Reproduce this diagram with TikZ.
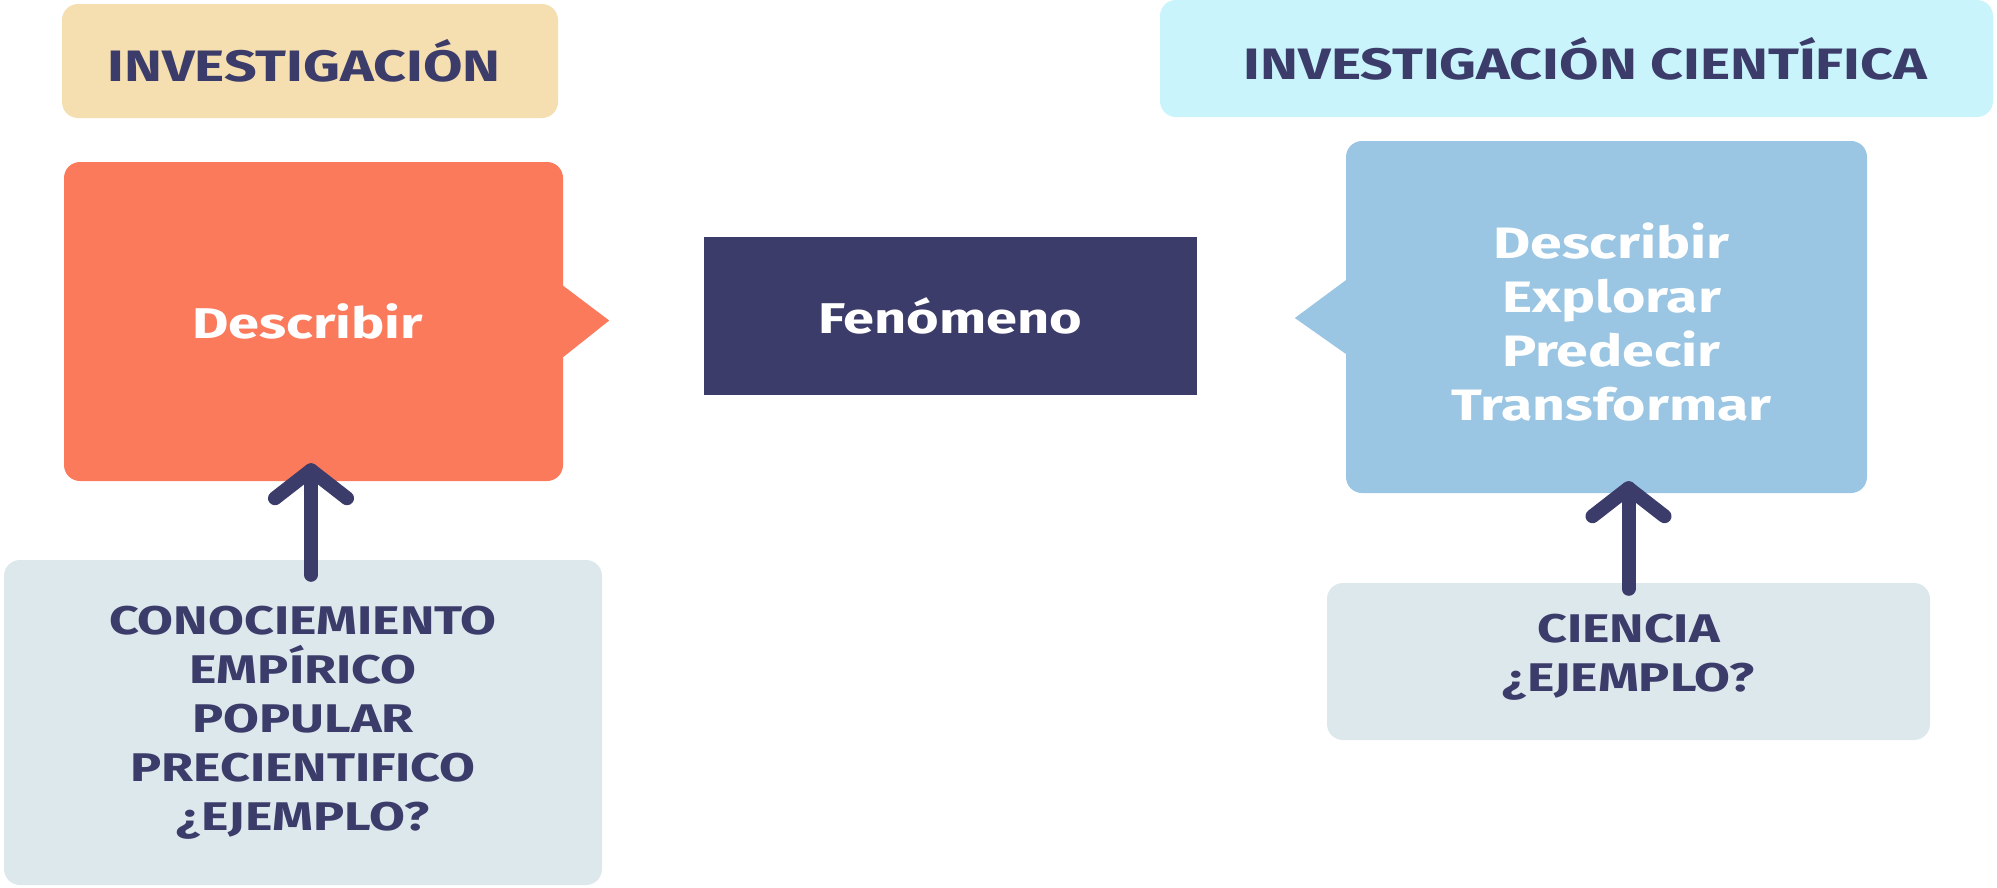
\documentclass[tikz,border=0pt]{standalone}
\usepackage{fontspec}
\setmainfont{Fira Sans}[FakeStretch=1.3]
\usetikzlibrary{positioning}
\definecolor{tanc}{HTML}{F5DFB0}
\definecolor{orangec}{HTML}{FC7A5C}
\definecolor{navyc}{HTML}{3C3C6B}
\definecolor{cyanc}{HTML}{C9F4FB}
\definecolor{bluec}{HTML}{9AC6E3}
\definecolor{greyc}{HTML}{DCE8EC}
\tikzset{
  box/.style={rectangle, rounded corners=16pt, inner sep=0pt, align=center, font=\bfseries},
  sqbox/.style={rectangle, inner sep=0pt, align=center, font=\bfseries},
  arrowline/.style={draw=navyc, line width=14pt, line cap=round, line join=round},
}
\begin{document}
\begin{tikzpicture}[x=1pt,y=-1pt]
\useasboundingbox (0,0) rectangle (1997,887);
% titles
\node[box, fill=tanc, minimum width=496pt, minimum height=114pt, text=navyc,
  font=\bfseries\fontsize{44}{50}\selectfont] (t1) at (310,61) {\hspace*{-12pt}INVESTIGACIÓN};
\node[box, fill=cyanc, minimum width=833pt, minimum height=117pt, text=navyc,
  font=\bfseries\fontsize{44}{50}\selectfont] (t2) at (1576.5,58.5) {\hspace*{18pt}INVESTIGACIÓN CIENTÍFICA};
% orange box
\node[box, fill=orangec, minimum width=499pt, minimum height=319pt, text=white,
  font=\bfseries\fontsize{43}{50}\selectfont] (desc) at (313.5,321.5) {\hspace*{-12pt}Describir};
\fill[orangec] ([xshift=-3pt,yshift=38pt]desc.east) -- ([xshift=46pt,yshift=1pt]desc.east)
  -- ([xshift=-3pt,yshift=-38pt]desc.east) -- cycle;
% fenomeno
\node[sqbox, fill=navyc, minimum width=493pt, minimum height=158pt, text=white,
  font=\bfseries\fontsize{43}{50}\selectfont] (fen) at (950.5,316) {Fenómeno};
% blue box
\node[box, fill=bluec, minimum width=521pt, minimum height=352pt, text=white,
  font=\bfseries\fontsize{44}{54}\selectfont] (sci) at (1606.5,317) {\hspace*{10pt}\raisebox{-18pt}[0pt][0pt]{\begin{tabular}{@{}c@{}}Describir\\ Explorar\\ Predecir\\ Transformar\end{tabular}}};
\fill[bluec] ([xshift=3pt,yshift=39pt]sci.west) -- ([xshift=-51pt,yshift=-1pt]sci.west)
  -- ([xshift=3pt,yshift=-39pt]sci.west) -- cycle;
% bottom boxes
\node[box, fill=greyc, minimum width=598pt, minimum height=325pt, text=navyc,
  font=\bfseries\fontsize{40}{49}\selectfont] (cono) at (303,722.5)
  {CONOCIEMIENTO\\ EMPÍRICO\\ POPULAR\\ PRECIENTIFICO\\ ¿EJEMPLO?};
\node[box, fill=greyc, minimum width=603pt, minimum height=157pt, text=navyc,
  font=\bfseries\fontsize{40}{49}\selectfont] (cien) at (1628.5,661.5)
  {\raisebox{-2pt}[0pt][0pt]{\begin{tabular}{@{}c@{}}CIENCIA\\ ¿EJEMPLO?\end{tabular}}};
% arrows
\coordinate (a1s) at ([xshift=8pt,yshift=-15pt]cono.north);
\coordinate (a1t) at ([xshift=-2pt,yshift=11pt]desc.south);
\draw[arrowline] (a1s) -- (a1s |- a1t) coordinate (a1tip);
\draw[arrowline] ([shift={(-36pt,-28pt)}]a1tip) -- (a1tip) -- ([shift={(36pt,-28pt)}]a1tip);
\coordinate (a2s) at ([yshift=-6pt]cien.north);
\coordinate (a2t) at ([yshift=5pt]sci.south);
\draw[arrowline] (a2s) -- (a2s |- a2t) coordinate (a2tip);
\draw[arrowline] ([shift={(-36pt,-28pt)}]a2tip) -- (a2tip) -- ([shift={(36pt,-28pt)}]a2tip);
\end{tikzpicture}
\end{document}
